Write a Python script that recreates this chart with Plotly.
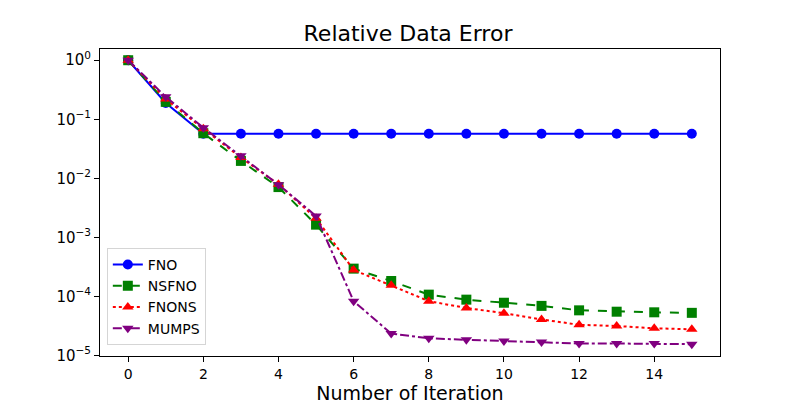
import plotly.graph_objects as go

iterations = list(range(16))
fno = [1.0, 0.189, 0.057, 0.057, 0.057, 0.057, 0.057, 0.057, 0.057, 0.057, 0.057, 0.057, 0.057, 0.057, 0.057, 0.057]
nsfno = [1.0, 0.197, 0.058, 0.0197, 0.0071, 0.00164, 0.000295, 0.000182, 0.000107, 8.8e-5, 7.8e-5, 6.9e-5, 5.8e-5, 5.5e-5, 5.37e-5, 5.26e-5]
fnons = [1.0, 0.22, 0.069, 0.0224, 0.0079, 0.0021, 0.00028, 0.000154, 8.3e-5, 6.35e-5, 5.2e-5, 4.07e-5, 3.3e-5, 3.15e-5, 2.88e-5, 2.77e-5]
mumps = [1.0, 0.24, 0.072, 0.024, 0.0078, 0.0023, 8.3e-5, 2.34e-5, 1.95e-5, 1.84e-5, 1.75e-5, 1.69e-5, 1.59e-5, 1.59e-5, 1.59e-5, 1.55e-5]

y_tickvals = [1, 1e-1, 1e-2, 1e-3, 1e-4, 1e-5]
y_ticktext = ["10<sup>0</sup>", "10<sup>−1</sup>", "10<sup>−2</sup>", "10<sup>−3</sup>", "10<sup>−4</sup>", "10<sup>−5</sup>"]
x_tickvals = [0, 2, 4, 6, 8, 10, 12, 14]

series = [
    ("FNO", fno, "#0000ff", "solid", "circle"),
    ("NSFNO", nsfno, "#008000", "dash", "square"),
    ("FNONS", fnons, "#ff0000", "dot", "triangle-up"),
    ("MUMPS", mumps, "#800080", "dashdot", "triangle-down"),
]

fig = go.Figure()
for name, vals, color, dash, sym in series:
    fig.add_trace(go.Scatter(
        x=iterations, y=vals, name=name, mode="lines+markers",
        line=dict(color=color, width=2, dash=dash),
        marker=dict(color=color, symbol=sym, size=10),
    ))

font = "DejaVu Sans"
fig.update_layout(
    template="none",
    width=800, height=400,
    paper_bgcolor="white", plot_bgcolor="white",
    margin=dict(l=92, r=88, t=41, b=52, autoexpand=False),
    title=dict(text="Relative Data Error", x=0.5, xanchor="center", y=0.9375, yanchor="middle",
               font=dict(family=font, size=22, color="black"), automargin=False),
    font=dict(family=font, size=14, color="black"),
    legend=dict(x=0.011, y=0.036, xanchor="left", yanchor="bottom",
                bordercolor="#d5d5d5", borderwidth=1, bgcolor="rgba(255,255,255,0.8)",
                font=dict(family=font, size=14), tracegroupgap=0),
    showlegend=True,
)
fig.update_xaxes(range=[-0.75, 15.75], tickvals=x_tickvals, ticks="outside", ticklen=5, tickwidth=1,
                 tickcolor="black", showline=True, linecolor="black", linewidth=1, mirror=True,
                 showgrid=False, zeroline=False, automargin=False,
                 title=dict(text="Number of Iteration", font=dict(family=font, size=19), standoff=2),
                 tickfont=dict(family=font, size=14))
fig.update_yaxes(type="log", range=[-5.01, 0.19], tickvals=y_tickvals, ticktext=y_ticktext,
                 ticks="outside", ticklen=5, tickwidth=1, tickcolor="black",
                 showline=True, linecolor="black", linewidth=1, mirror=True,
                 showgrid=False, zeroline=False, automargin=False,
                 tickfont=dict(family=font, size=15))

fig.write_html("out.html")
